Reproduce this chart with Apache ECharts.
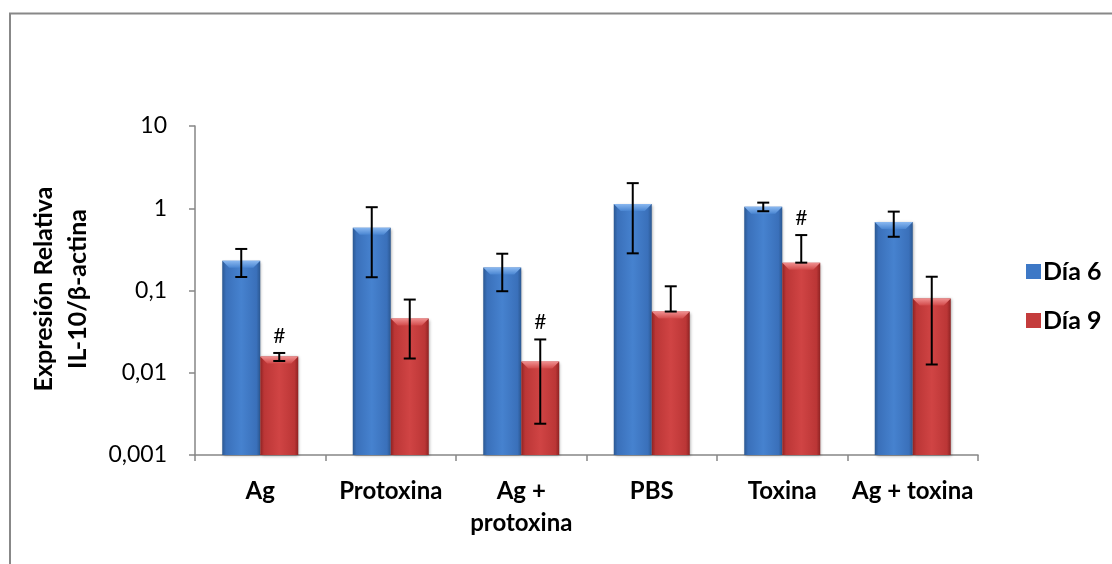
<!DOCTYPE html>
<html>
<head>
<meta charset="utf-8">
<script src="https://cdn.jsdelivr.net/npm/echarts@6/dist/echarts.min.js"></script>
<style>
html,body{margin:0;padding:0;background:#fff;}
#c{width:1112px;height:564px;}
</style>
</head>
<body>
<div id="c"></div>
<script>
const categories = ['Ag', 'Protoxina', 'Ag +\nprotoxina', 'PBS', 'Toxina', 'Ag + toxina'];
const dia6 = [0.23, 0.58, 0.19, 1.13, 1.04, 0.68];
const dia6Low = [0.146, 0.145, 0.098, 0.283, 0.92, 0.45];
const dia6High = [0.32, 1.03, 0.28, 2.02, 1.17, 0.91];
const dia9 = [0.0158, 0.0456, 0.0137, 0.0555, 0.218, 0.080];
const dia9Low = [0.0139, 0.0149, 0.0024, 0.0555, 0.218, 0.0126];
const dia9High = [0.0174, 0.0776, 0.0254, 0.1125, 0.472, 0.147];
const sig9 = ['#', '', '#', '', '#', ''];
const yTicks = [0.001, 0.01, 0.1, 1, 10];
const yTickLabels = ['0,001', '0,01', '0,1', '1', '10'];

const FONT = 'Lato, "Liberation Sans", sans-serif';
const BAR_W = 38;

function grad(dark, mid, light) {
  return new echarts.graphic.LinearGradient(0, 0, 1, 0, [
    {offset: 0, color: dark},
    {offset: 0.1, color: mid},
    {offset: 0.5, color: light},
    {offset: 0.9, color: mid},
    {offset: 1, color: dark}
  ]);
}
const blueFill = grad('#2b5892', '#3a70ba', '#4682cf');
const redFill = grad('#8f2323', '#bb3636', '#d04444');
const blueTop = new echarts.graphic.LinearGradient(0, 0, 0, 1, [{offset: 0, color: '#8ab8f0'}, {offset: 1, color: '#4a86d2'}]);
const redTop = new echarts.graphic.LinearGradient(0, 0, 0, 1, [{offset: 0, color: '#f09090'}, {offset: 1, color: '#d24a4a'}]);

function barRender(offset, fill, topFill) {
  return function (params, api) {
    const i = api.value(0);
    const pTop = api.coord([i, api.value(1)]);
    const pBase = api.coord([i, yTicks[0]]);
    const x0 = pTop[0] + offset - BAR_W / 2;
    const y0 = pTop[1];
    const h = pBase[1] - y0;
    const bev = 7;
    return {type: 'group', children: [
      {type: 'rect', shape: {x: x0, y: y0, width: BAR_W, height: h},
        style: {fill: fill, shadowBlur: 3, shadowColor: 'rgba(0,0,0,0.35)', shadowOffsetX: 1, shadowOffsetY: 1}},
      {type: 'polygon', shape: {points: [[x0, y0], [x0 + BAR_W, y0], [x0 + BAR_W - bev, y0 + bev], [x0 + bev, y0 + bev]]},
        style: {fill: topFill}}
    ]};
  };
}

function errRender(offset) {
  return function (params, api) {
    const i = api.value(0);
    const pH = api.coord([i, api.value(2)]);
    const pL = api.coord([i, api.value(1)]);
    const x = pH[0] + offset;
    const cap = 6;
    const st = {stroke: '#000', lineWidth: 2};
    const children = [
      {type: 'line', shape: {x1: x, y1: pH[1], x2: x, y2: pL[1]}, style: st},
      {type: 'line', shape: {x1: x - cap, y1: pH[1], x2: x + cap, y2: pH[1]}, style: st},
      {type: 'line', shape: {x1: x - cap, y1: pL[1], x2: x + cap, y2: pL[1]}, style: st}
    ];
    const mark = api.value(3);
    if (mark && mark !== '-') {
      children.push({type: 'text', x: x, y: pH[1] - 17,
        style: {text: String(mark), fill: '#000', font: '21px ' + FONT, align: 'center', verticalAlign: 'middle'}});
    }
    return {type: 'group', children: children};
  };
}

const chart = echarts.init(document.getElementById('c'));
chart.setOption({
  animation: false,
  backgroundColor: '#fff',
  grid: {left: 195, right: 134, top: 126, bottom: 109, containLabel: false},
  legend: {
    orient: 'vertical', left: 1021, top: 254, itemWidth: 15, itemHeight: 15, itemGap: 24,
    icon: 'rect',
    data: [{name: 'Día 6', itemStyle: {color: '#3d78c6'}}, {name: 'Día 9', itemStyle: {color: '#c43c3c'}}],
    textStyle: {fontFamily: FONT, fontWeight: 'bold', fontSize: 25, color: '#000', lineHeight: 25, padding: [0, 0, 0, -3]}
  },
  xAxis: {
    type: 'category', data: categories,
    axisLine: {lineStyle: {color: '#868686', width: 1.5}},
    axisTick: {show: true, length: 6, lineStyle: {color: '#868686', width: 1.5}},
    axisLabel: {fontFamily: FONT, fontWeight: 'bold', fontSize: 24, color: '#000', margin: 20, lineHeight: 32, interval: 0}
  },
  yAxis: {
    type: 'log', logBase: 10, min: yTicks[0], max: yTicks[yTicks.length - 1],
    axisLine: {show: true, lineStyle: {color: '#868686', width: 1.5}},
    axisTick: {show: true, length: 6, lineStyle: {color: '#868686', width: 1.5}},
    splitLine: {show: false},
    minorTick: {show: false},
    axisLabel: {
      fontFamily: FONT, fontSize: 23, color: '#000', margin: 28,
      formatter: function (v) {
        let best = 0, bd = Infinity;
        yTicks.forEach((t, k) => { const d = Math.abs(Math.log10(v) - Math.log10(t)); if (d < bd) { bd = d; best = k; } });
        return yTickLabels[best];
      }
    }
  },
  graphic: [
    {type: 'polyline', shape: {points: [[10, 564], [10, 13.5], [1112, 13.5]]}, style: {stroke: '#888', lineWidth: 2, fill: null}, silent: true},
    {type: 'text', x: 44, y: 289, rotation: Math.PI / 2,
      style: {text: 'Expresión Relativa', font: 'bold 25px ' + FONT, fill: '#000', align: 'center', verticalAlign: 'middle'}},
    {type: 'text', x: 78, y: 289, rotation: Math.PI / 2,
      style: {text: 'IL-10/β-actina', font: 'bold 25px ' + FONT, fill: '#000', align: 'center', verticalAlign: 'middle'}}
  ],
  series: [
    {name: 'Día 6', type: 'custom', data: dia6.map((v, i) => [i, v]), renderItem: barRender(-BAR_W / 2, blueFill, blueTop),
      itemStyle: {color: '#3d78c6'}, encode: {x: 0, y: 1}, z: 2},
    {name: 'Día 9', type: 'custom', data: dia9.map((v, i) => [i, v]), renderItem: barRender(BAR_W / 2, redFill, redTop),
      itemStyle: {color: '#c43c3c'}, encode: {x: 0, y: 1}, z: 2},
    {type: 'custom', name: 'err6', data: dia6Low.map((l, i) => [i, l, dia6High[i], '']), renderItem: errRender(-BAR_W / 2), z: 10,
      encode: {x: 0, y: [1, 2]}},
    {type: 'custom', name: 'err9', data: dia9Low.map((l, i) => [i, l, dia9High[i], sig9[i]]), renderItem: errRender(BAR_W / 2), z: 10,
      encode: {x: 0, y: [1, 2]}}
  ]
});
</script>
</body>
</html>
